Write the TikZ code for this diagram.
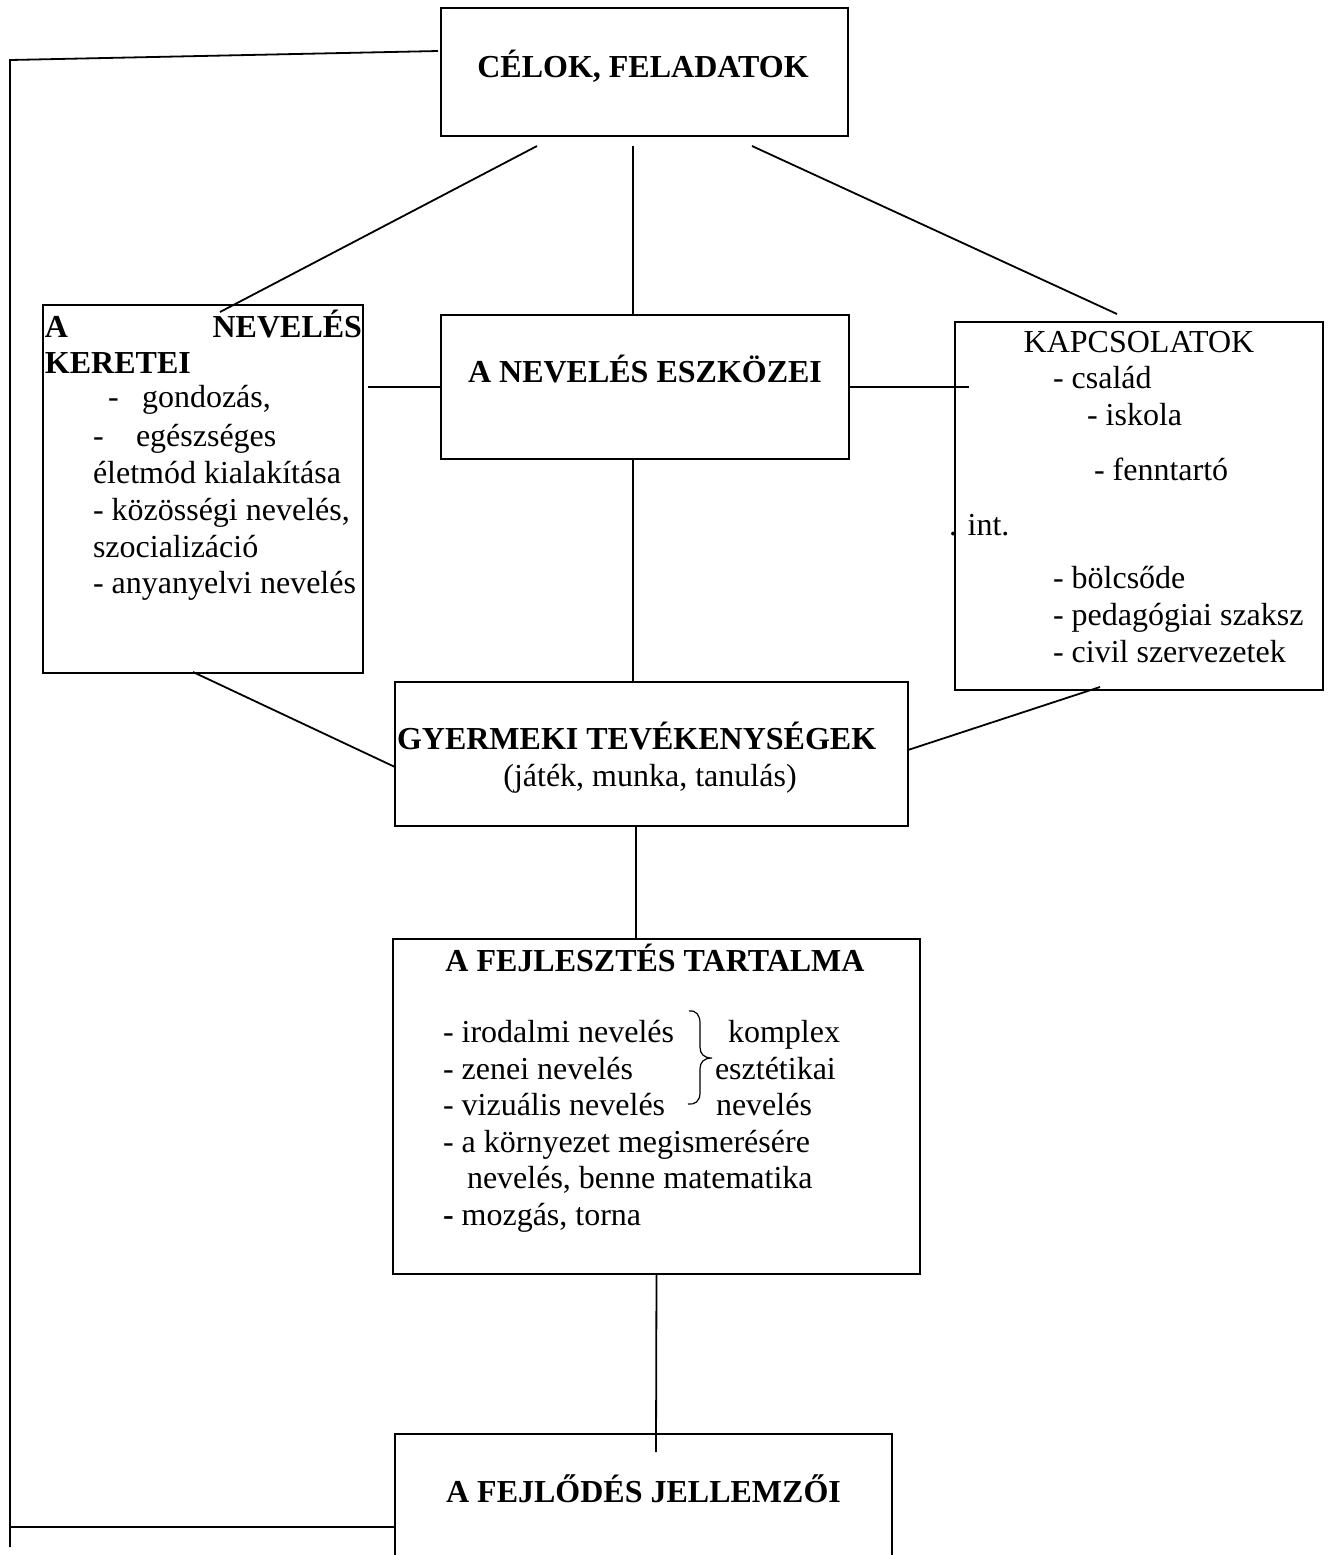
\documentclass[tikz,border=0pt]{standalone}
\usepackage{fontspec}
\setmainfont{Liberation Serif}
\usetikzlibrary{calc}
\tikzset{
  box/.style={draw, line width=0.9pt, rectangle, inner sep=0pt, outer sep=0pt},
  conn/.style={line width=0.9pt},
  txt/.style={inner sep=0pt, outer sep=0pt, font=\fontsize{16}{18.4}\selectfont},
  btxt/.style={inner sep=0pt, outer sep=0pt, font=\fontsize{16}{18.4}\selectfont\bfseries},
}
\begin{document}
\begin{tikzpicture}[x=0.5pt,y=-0.5pt]
\useasboundingbox (0,0) rectangle (1331,1555);
% boxes
\node[box, minimum width=203.5pt, minimum height=64pt] (celok) at (644.5,72) {};
\node[box, minimum width=160pt, minimum height=184pt] (keretei) at (203,489) {};
\node[box, minimum width=204pt, minimum height=72pt] (eszkozei) at (645,387) {};
\node[box, minimum width=184pt, minimum height=184pt] (kapcs) at (1139,506) {};
\node[box, minimum width=256.5pt, minimum height=72pt] (gyermeki) at (651.5,754) {};
\node[box, minimum width=263.5pt, minimum height=167.5pt] (fejl) at (656.5,1106.5) {};
\node[inner sep=0pt, outer sep=0pt, minimum width=248.5pt, minimum height=61pt] (fejlodes) at (643.5,1495) {};
\draw[conn] (fejlodes.south west) -- (fejlodes.north west) -- (fejlodes.north east) -- (fejlodes.south east);

% feedback line
\coordinate (tl) at (10,60);
\coordinate (bl) at (10,1547);
\coordinate (bj) at (10,1527);
\draw[conn] ($(celok.west)+(-3,-21)$) -- (tl) -- (bl);
\draw[conn] (bj) -- ($(fejlodes.west)+(0,32)$);

% connectors
\draw[conn] ($(celok.south)+(-107.5,10)$) -- ($(keretei.north)+(17,7)$);
\draw[conn] ($(celok.south)+(-11.5,10)$) -- ($(eszkozei.north)+(-12,0)$);
\draw[conn] ($(celok.south)+(107.5,10)$) -- ($(kapcs.north)+(-22,-8)$);
\draw[conn] ($(keretei.east)+(5,-102)$) -- (eszkozei.west);
\draw[conn] (eszkozei.east) -- ($(kapcs.west)+(14,-119)$);
\draw[conn] ($(eszkozei.south)+(-12,0)$) -- ($(gyermeki.north)+(-18.5,0)$);
\draw[conn] ($(keretei.south)+(-10,-1)$) -- ($(gyermeki.west)+(0,13)$);
\draw[conn] ($(kapcs.south)+(-39,-3)$) -- ($(gyermeki.east)+(0,-4)$);
\draw[conn] ($(gyermeki.south)+(-15.5,0)$) -- ($(fejl.north)+(-20.5,0)$);
\draw[conn] (fejl.south) -- ($(fejlodes.north)+(12.5,18)$);

% texts
\node[btxt, anchor=base] (tcelok) at (643,77) {CÉLOK, FELADATOK};

\node[btxt, anchor=base west] (tk1a) at (45,337) {A};
\node[btxt, anchor=base east] (tk1b) at (362,337) {NEVELÉS};
\node[btxt, anchor=base west] (tk2) at (45,373) {KERETEI};
\node[txt, anchor=base west] (tk3a) at (108,407) {-};
\node[txt, anchor=base west] (tk3b) at (142,407) {gondozás,};
\node[txt, anchor=base west] (tk4a) at (93,446) {-};
\node[txt, anchor=base west] (tk4b) at (136,446) {egészséges};
\node[txt, anchor=base west] (tk5) at (93,483) {életmód kialakítása};
\node[txt, anchor=base west] (tk6) at (93,520) {- közösségi nevelés,};
\node[txt, anchor=base west] (tk7) at (93,557) {szocializáció};
\node[txt, anchor=base west] (tk8) at (93,593) {- anyanyelvi nevelés};

\node[btxt, anchor=base] (tesz) at (645,382) {A NEVELÉS ESZKÖZEI};

\node[txt, anchor=base] (tka) at (1139,352) {KAPCSOLATOK};
\node[txt, anchor=base west] (tkb) at (1053,388) {- család};
\node[txt, anchor=base west] (tkc) at (1087,425) {- iskola};
\node[txt, anchor=base west] (tkd) at (1094,480) {- fenntartó};
\node[txt, anchor=base west] (tke) at (949,535) {. int.};
\node[txt, anchor=base west] (tkf) at (1053,588) {- bölcsőde};
\node[txt, anchor=base west] (tkg) at (1053,625) {- pedagógiai szaksz};
\node[txt, anchor=base west] (tkh) at (1053,662) {- civil szervezetek};

\node[btxt, anchor=base west] (tgy1) at (397,749) {GYERMEKI TEVÉKENYSÉGEK};
\node[txt, anchor=base] (tgy2) at (650,786) {(játék, munka, tanulás)};

\node[btxt, anchor=base] (tf0) at (655,971) {A FEJLESZTÉS TARTALMA};
\node[txt, anchor=base west] (tf1) at (443,1042) {- irodalmi nevelés};
\node[txt, anchor=base west] (tf2) at (443,1079) {- zenei nevelés};
\node[txt, anchor=base west] (tf3) at (443,1115) {- vizuális nevelés};
\node[txt, anchor=base west] (tf4) at (443,1152) {- a környezet megismerésére};
\node[txt, anchor=base west] (tf5) at (467,1188) {nevelés, benne matematika};
\node[txt, anchor=base west] (tf6) at (443,1225) {\textbf{-} mozgás, torna};
\node[txt, anchor=base west] (tr1) at (728,1042) {komplex};
\node[txt, anchor=base west] (tr2) at (715,1079) {esztétikai};
\node[txt, anchor=base west] (tr3) at (716,1115) {nevelés};
\draw[line width=0.6pt] (689,1011) .. controls (696,1010) and (700,1015) .. (700,1023)
  -- (700,1047) .. controls (700,1054) and (704,1058) .. (712,1058)
  .. controls (704,1058) and (700,1062) .. (700,1069)
  -- (700,1093) .. controls (700,1101) and (695,1105) .. (688,1104);

\node[btxt, anchor=base] (tfd) at (643.5,1502) {A FEJLŐDÉS JELLEMZŐI};
\end{tikzpicture}
\end{document}
